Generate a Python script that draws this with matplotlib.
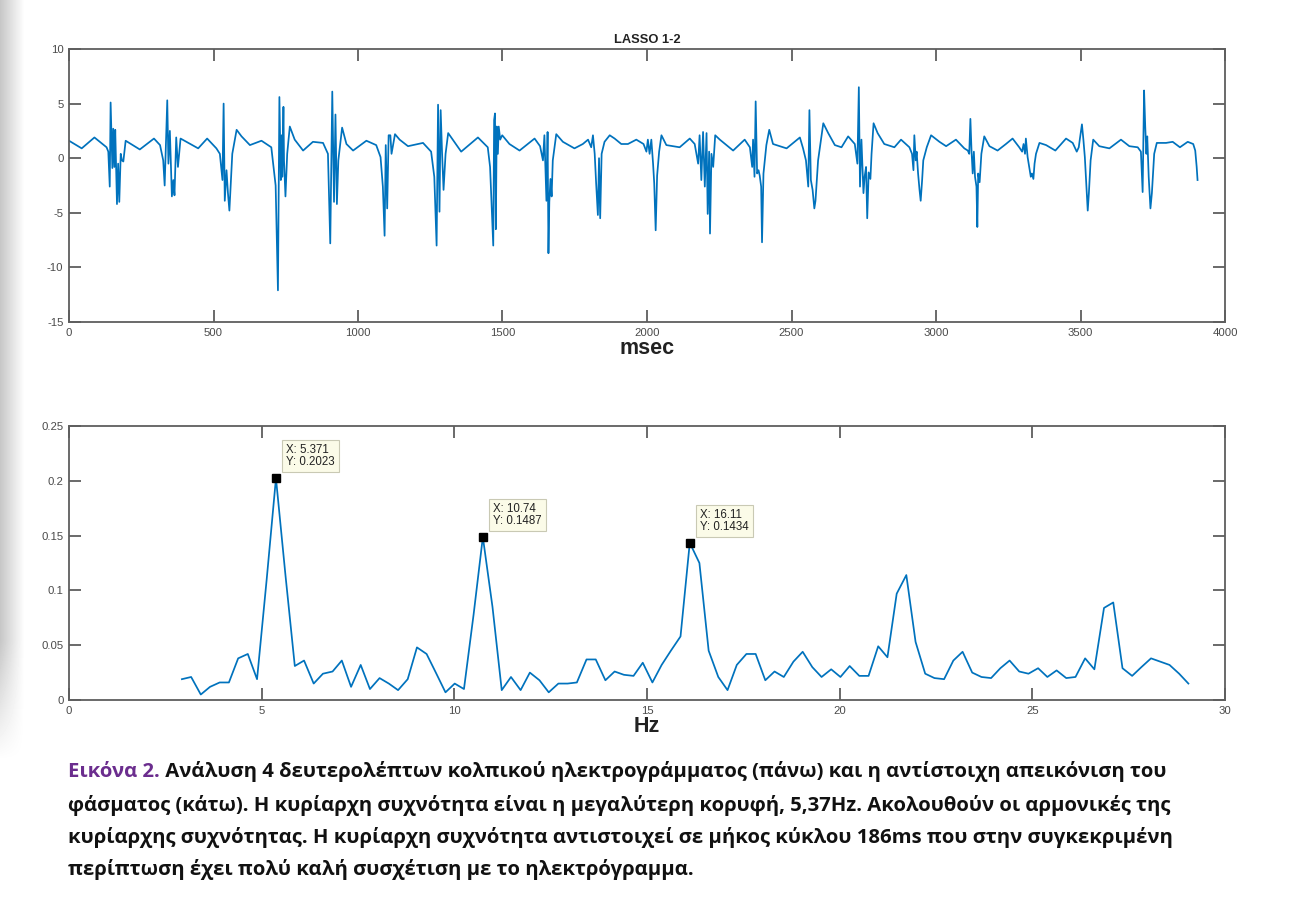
import numpy as np
import matplotlib
matplotlib.use("Agg")
import matplotlib.pyplot as plt

# ── Data ──────────────────────────────────────────────────────────────

# atrial electrogram, LASSO 1-2 (msec, mV), one row per activation
t_ms = [
    0, 44, 88, 130, 136, 141, 144, 150, 153, 157, 160, 166, 170, 174, 179, 183, 188, 196,
    245, 294, 315, 326, 331, 340, 344, 349, 356, 361, 365, 371, 377, 386,
    447, 478, 510, 522, 531, 535, 539, 545, 550, 555, 565, 580, 597,
    626, 666, 700, 715, 723, 728, 733, 736, 738, 742, 744, 749, 755, 764, 781,
    810, 844, 879, 896, 904, 911, 917, 922, 927, 932, 945, 960,
    983, 1029, 1063, 1078, 1086, 1092, 1096, 1101, 1106, 1112, 1116, 1128, 1144, 1173,
    1225, 1253, 1264, 1272, 1277, 1282, 1286, 1291, 1296, 1303, 1312, 1328,
    1357, 1415, 1449, 1457, 1463, 1468, 1471, 1474, 1477, 1480, 1484, 1487, 1492, 1499, 1524,
    1559, 1611, 1630, 1640, 1645, 1649, 1652, 1656, 1659, 1662, 1666, 1670, 1674, 1686, 1709,
    1749, 1778, 1796, 1807, 1813, 1819, 1824, 1830, 1834, 1838, 1843, 1853, 1871, 1888,
    1911, 1934, 1963, 1988, 1998, 2003, 2009, 2015, 2021, 2025, 2030, 2035, 2042, 2050, 2067,
    2113, 2148, 2165, 2177, 2182, 2188, 2194, 2200, 2206, 2210, 2215, 2218, 2223, 2229, 2236, 2252,
    2298, 2338, 2356, 2364, 2367, 2372, 2376, 2381, 2386, 2390, 2395, 2398, 2403, 2413, 2423, 2436,
    2483, 2529, 2540, 2550, 2558, 2562, 2567, 2573, 2579, 2583, 2592, 2610, 2627, 2650,
    2673, 2696, 2719, 2728, 2733, 2737, 2742, 2749, 2753, 2758, 2762, 2767, 2773, 2777, 2784, 2798,
    2821, 2856, 2879, 2908, 2917, 2922, 2925, 2930, 2933, 2938, 2943, 2947, 2952, 2956, 2961, 2968, 2983,
    3012, 3035, 3069, 3098, 3110, 3115, 3119, 3123, 3127, 3131, 3135, 3140, 3143, 3146, 3151, 3157, 3167, 3185,
    3213, 3242, 3265, 3288, 3298, 3303, 3308, 3311, 3317, 3323, 3328, 3332, 3337, 3341, 3346, 3358, 3381,
    3413, 3450, 3473, 3487, 3494, 3498, 3505, 3510, 3515, 3520, 3525, 3529, 3535, 3544, 3565,
    3600, 3640, 3669, 3698, 3709, 3715, 3720, 3724, 3728, 3731, 3736, 3742, 3747, 3755, 3764, 3796,
    3819, 3844, 3871, 3890, 3897, 3902, 3905,
]
egm_mv = [
    1.6, 0.9, 1.9, 1.0, 0.6, -2.6, 5.1, -0.9, 2.7, -0.8, 2.6, -4.2, -0.5, -4.0, 0.4, -0.2, -0.3, 1.6,
    0.8, 1.8, 1.2, -0.2, -2.5, 5.3, -0.5, 2.5, -3.5, -2.0, -3.4, 1.9, -0.8, 1.8,
    0.9, 1.8, 0.9, 0.4, -2.0, 5.0, -3.9, -1.1, -3.2, -4.8, 0.4, 2.6, 2.0,
    1.2, 1.6, 1.0, -2.5, -12.1, 5.6, -2.0, 2.1, -1.7, 4.7, -0.2, -3.5, 0.4, 2.9, 1.7,
    0.7, 1.5, 1.4, 0.4, -7.8, 6.1, -4.0, 4.0, -4.2, -0.2, 2.8, 1.3,
    0.7, 1.6, 1.2, 0.1, -2.6, -7.1, 1.2, -4.6, 2.1, 2.1, 0.4, 2.2, 1.7, 1.1,
    1.4, 0.6, -1.7, -8.0, 4.9, -4.9, 4.4, 0.4, -2.9, 0.4, 2.3, 1.7,
    0.6, 1.9, 1.0, -0.8, -4.6, -8.0, 3.5, 4.1, -6.5, 2.9, 0.4, 2.9, 1.7, 2.1, 1.3,
    0.7, 1.8, 1.1, -0.2, 2.1, -1.4, -3.9, 2.4, -8.7, -4.0, -1.9, -3.5, -0.2, 2.2, 1.5,
    0.9, 1.3, 1.7, 1.0, 2.1, 0.4, -2.3, -5.2, 0.0, -5.5, 0.4, 1.5, 2.1, 1.8,
    1.3, 1.3, 1.7, 1.3, 0.6, 1.7, 0.4, 1.7, -0.5, -2.3, -6.6, -1.6, 0.6, 2.1, 1.2,
    1.0, 1.8, 1.3, -0.5, 2.1, -2.0, 2.4, -2.6, 2.3, -5.1, 0.6, -6.9, 0.4, -0.8, 2.1, 1.7,
    0.7, 1.7, 1.0, -0.8, 1.7, -1.7, 5.2, -1.4, -1.1, -1.6, -2.6, -7.7, -1.4, 1.2, 2.6, 1.3,
    0.9, 1.9, 0.9, -0.2, -2.6, 4.4, -2.0, -2.9, -4.6, -3.9, -0.2, 3.2, 2.3, 1.2,
    1.0, 2.0, 1.3, -0.5, 6.5, -2.6, 1.7, -3.2, -1.7, -0.8, -5.5, -1.3, -1.9, 0.4, 3.2, 2.3,
    1.3, 1.0, 1.7, 1.0, 0.4, -1.1, 2.1, -0.2, 0.6, -1.4, -2.9, -3.9, -2.0, -0.2, 0.3, 1.0, 2.1,
    1.5, 1.1, 1.7, 0.9, 0.7, 0.4, 3.6, 0.6, -1.4, 0.6, -1.7, -2.6, -6.3, -1.4, -2.2, 0.4, 2.0, 1.1,
    0.7, 1.3, 1.8, 1.0, 0.6, 1.3, 0.4, 1.8, 0.1, -0.9, -1.7, -1.4, -1.9, -0.5, 0.4, 1.4, 1.2,
    0.7, 1.8, 1.4, 0.6, 1.0, 1.8, 3.1, 1.7, 0.1, -2.3, -4.8, -3.2, -0.2, 1.7, 1.1,
    0.9, 1.7, 1.1, 1.0, 0.6, -3.1, 6.2, 2.9, 0.4, 2.0, -1.7, -4.6, -3.2, 0.4, 1.4, 1.4,
    1.5, 1.0, 1.5, 1.3, 0.7, -0.8, -2.0,
]

# spectrum of the electrogram (Hz, amplitude)
freq_hz = [
    2.93, 3.17, 3.42, 3.66, 3.91, 4.15, 4.39, 4.64, 4.88, 5.13,
    5.371, 5.62, 5.86, 6.10, 6.35, 6.59, 6.84, 7.08, 7.32, 7.57,
    7.81, 8.06, 8.30, 8.54, 8.79, 9.03, 9.28, 9.52, 9.77, 10.01,
    10.25, 10.50, 10.74, 10.99, 11.23, 11.47, 11.72, 11.96, 12.21, 12.45,
    12.70, 12.94, 13.18, 13.43, 13.67, 13.92, 14.16, 14.40, 14.65, 14.89,
    15.14, 15.38, 15.62, 15.87, 16.11, 16.36, 16.60, 16.85, 17.09, 17.33,
    17.58, 17.82, 18.07, 18.31, 18.55, 18.80, 19.04, 19.29, 19.53, 19.78,
    20.02, 20.26, 20.51, 20.75, 21.00, 21.24, 21.48, 21.73, 21.97, 22.22,
    22.46, 22.71, 22.95, 23.19, 23.44, 23.68, 23.93, 24.17, 24.41, 24.66,
    24.90, 25.15, 25.39, 25.63, 25.88, 26.12, 26.37, 26.61, 26.86, 27.10,
    27.34, 27.59, 27.83, 28.08, 28.32, 28.56, 28.81, 29.05,
]
power = [
    0.019, 0.021, 0.005, 0.012, 0.016, 0.016, 0.038, 0.042, 0.019, 0.110,
    0.2023, 0.113, 0.031, 0.036, 0.015, 0.024, 0.026, 0.036, 0.012, 0.032,
    0.010, 0.020, 0.015, 0.009, 0.019, 0.048, 0.042, 0.025, 0.007, 0.015,
    0.010, 0.078, 0.1487, 0.085, 0.009, 0.021, 0.009, 0.025, 0.018, 0.007,
    0.015, 0.015, 0.016, 0.037, 0.037, 0.018, 0.026, 0.023, 0.022, 0.034,
    0.016, 0.032, 0.045, 0.058, 0.1434, 0.125, 0.045, 0.021, 0.009, 0.032,
    0.042, 0.042, 0.018, 0.026, 0.021, 0.035, 0.044, 0.030, 0.021, 0.028,
    0.021, 0.031, 0.022, 0.022, 0.049, 0.039, 0.097, 0.114, 0.053, 0.024,
    0.020, 0.019, 0.036, 0.044, 0.025, 0.021, 0.020, 0.029, 0.036, 0.026,
    0.024, 0.029, 0.021, 0.027, 0.020, 0.021, 0.038, 0.028, 0.084, 0.089,
    0.029, 0.022, 0.030, 0.038, 0.035, 0.032, 0.024, 0.015,
]

# data tips on the dominant frequency and its harmonics
tip_x = [5.371, 10.74, 16.11]
tip_y = [0.2023, 0.1487, 0.1434]
tip_labels = ["X: 5.371\nY: 0.2023", "X: 10.74\nY: 0.1487", "X: 16.11\nY: 0.1434"]

top_xticks = [0, 500, 1000, 1500, 2000, 2500, 3000, 3500, 4000]
top_yticks = [-15, -10, -5, 0, 5, 10]
bot_xticks = [0, 5, 10, 15, 20, 25, 30]
bot_yticks = [0, 0.05, 0.1, 0.15, 0.2, 0.25]
bot_ylabels = ["0", "0.05", "0.1", "0.15", "0.2", "0.25"]

caption_head = "Εικόνα 2."
caption_lines = [
    " Ανάλυση 4 δευτερολέπτων κολπικού ηλεκτρογράμματος (πάνω) και η αντίστοιχη απεικόνιση του",
    "φάσματος (κάτω). Η κυρίαρχη συχνότητα είναι η μεγαλύτερη κορυφή, 5,37Hz. Ακολουθούν οι αρμονικές της",
    "κυρίαρχης συχνότητας. Η κυρίαρχη συχνότητα αντιστοιχεί σε μήκος κύκλου 186ms που στην συγκεκριμένη",
    "περίπτωση έχει πολύ καλή συσχέτιση με το ηλεκτρόγραμμα.",
]

# ── Style ─────────────────────────────────────────────────────────────

W, H = 1292, 909
LINE_BLUE = "#0072BD"
AXIS_GRAY = "#5e5e5e"
LABEL_GRAY = "#4a4a4a"
PURPLE = "#6b2d8e"

plt.rcParams["axes.unicode_minus"] = False
plt.rcParams["font.family"] = ["Liberation Sans", "DejaVu Sans"]

fig = plt.figure(figsize=(W / 100, H / 100), dpi=100)

# page shadow along the left edge
bg = fig.add_axes([0, 0, 1, 1], zorder=-10)
bg.set_xlim(0, W)
bg.set_ylim(H, 0)
bg.axis("off")
ramp = np.clip(np.arange(40) / 24.0, 0, 1)
fade = np.clip((760 - np.arange(H)) / 120.0, 0, 1)
shade = 1 - 0.22 * np.outer(fade, 1 - ramp)
bg.imshow(shade, extent=(0, 40, H, 0), cmap="gray", vmin=0, vmax=1,
          aspect="auto", interpolation="bilinear")


def px_axes(left, top, right, bottom):
    return fig.add_axes([left / W, 1 - bottom / H, (right - left) / W, (bottom - top) / H])


def matlab_style(ax):
    for s in ax.spines.values():
        s.set_color(AXIS_GRAY)
        s.set_linewidth(1.3)
    ax.tick_params(direction="in", length=8.5, width=1.3, color=AXIS_GRAY,
                   top=True, right=True, labelsize=8.2, labelcolor=LABEL_GRAY, pad=4)


# ── Top: electrogram ──────────────────────────────────────────────────

ax1 = px_axes(69, 49, 1225, 322)
ax1.plot(t_ms, egm_mv, color=LINE_BLUE, lw=1.25)
ax1.set_xlim(0, 4000)
ax1.set_ylim(-15, 10)
ax1.set_xticks(top_xticks)
ax1.set_yticks(top_yticks)
matlab_style(ax1)
ax1.set_title("LASSO 1-2", fontsize=9.3, fontweight="bold", color="#222222", pad=4)
ax1.set_xlabel("msec", fontsize=15.5, fontweight="bold", color="#222222", labelpad=0)

# ── Bottom: spectrum ──────────────────────────────────────────────────

ax2 = px_axes(69, 426, 1225, 700)
ax2.plot(freq_hz, power, color=LINE_BLUE, lw=1.25)
ax2.plot(tip_x, tip_y, ls="none", marker="s", ms=5.5, color="black")
for x, y, lab in zip(tip_x, tip_y, tip_labels):
    ax2.annotate(lab, xy=(x, y), xytext=(10, 10), textcoords="offset pixels",
                 ha="left", va="bottom", fontsize=8.3, color="#222222", linespacing=1.0,
                 bbox=dict(boxstyle="square,pad=0.35", fc="#fbfbe8", ec="#c9c9b4", lw=0.8))
ax2.set_xlim(0, 30)
ax2.set_ylim(0, 0.25)
ax2.set_xticks(bot_xticks)
ax2.set_yticks(bot_yticks)
ax2.set_yticklabels(bot_ylabels)
matlab_style(ax2)
ax2.set_xlabel("Hz", fontsize=15.5, fontweight="bold", color="#222222", labelpad=0)

# ── Caption ───────────────────────────────────────────────────────────

cap_font = dict(fontsize=14.6, fontweight="bold", family=["Open Sans", "DejaVu Sans"])
head = fig.text(68 / W, 1 - 772 / H, caption_head, color=PURPLE, va="center", **cap_font)
bg.annotate(caption_lines[0], xy=(1, 0), xycoords=head, va="bottom", ha="left",
            color="#111111", **cap_font)
for i, line in enumerate(caption_lines[1:]):
    fig.text(68 / W, 1 - (805 + 32.5 * i) / H, line, color="#111111", va="center", **cap_font)

fig.savefig("out.png", dpi=100, facecolor="white")
